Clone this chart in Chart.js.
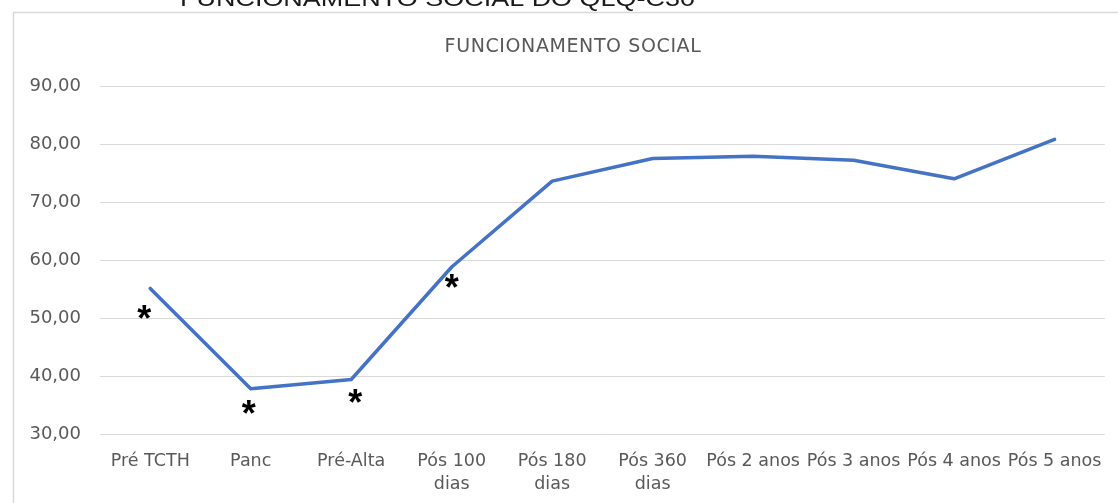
<!DOCTYPE html>
<html>
<head>
<meta charset="utf-8">
<script src="https://cdn.jsdelivr.net/npm/chart.js@4"></script>
<style>
  html, body { margin: 0; padding: 0; background: #ffffff; }
  #wrap { position: relative; width: 1118px; height: 503px; }
  canvas { display: block; }
</style>
</head>
<body>
<div id="wrap"><canvas id="c" width="1118" height="503"></canvas></div>
<script>
// Time points of the follow-up
const categories = ["Pré TCTH", "Panc", "Pré-Alta", ["Pós 100", "dias"], ["Pós 180", "dias"], ["Pós 360", "dias"], "Pós 2 anos", "Pós 3 anos", "Pós 4 anos", "Pós 5 anos"];
// Mean social functioning score at each time point
const socialScores = [55.1, 37.8, 39.4, 58.8, 73.6, 77.5, 77.9, 77.2, 74.0, 80.8];
// Y axis range and step
const yMin = 30;
const yMax = 90;
const yStep = 10;
// Significance asterisks: level on the y scale for the first four time points
const asteriskLevels = [51.1, 34.7, 36.6, 56.3];
const asteriskShift = [-6, -2, 4, 0];

const headingText = "FUNCIONAMENTO SOCIAL DO QLQ-C30";
const chartTitle = "FUNCIONAMENTO SOCIAL";

const frameAndTitles = {
  id: 'frameAndTitles',
  beforeDraw(chart) {
    const ctx = chart.ctx;
    ctx.save();
    // page heading running off the top edge
    ctx.font = '22px "Liberation Sans", Arial, sans-serif';
    ctx.fillStyle = '#1a1a1a';
    ctx.textBaseline = 'alphabetic';
    ctx.textAlign = 'left';
    const w = ctx.measureText(headingText).width;
    ctx.translate(180, 6);
    ctx.scale(515 / w, 1);
    ctx.fillText(headingText, 0, 0);
    ctx.restore();

    // chart frame
    ctx.save();
    ctx.strokeStyle = '#d9d9d9';
    ctx.lineWidth = 1.5;
    ctx.beginPath();
    ctx.moveTo(13.5, 503);
    ctx.lineTo(13.5, 12.5);
    ctx.lineTo(1118, 12.5);
    ctx.stroke();

    // chart title
    ctx.font = '19px "DejaVu Sans", sans-serif';
    ctx.fillStyle = '#595959';
    ctx.textAlign = 'center';
    ctx.textBaseline = 'alphabetic';
    if ('letterSpacing' in ctx) ctx.letterSpacing = '0.6px';
    ctx.fillText(chartTitle, 573, 51.5);
    ctx.restore();
  }
};

const asterisks = {
  id: 'asterisks',
  afterDatasetsDraw(chart) {
    const ctx = chart.ctx;
    const xs = chart.scales.x, ys = chart.scales.y;
    ctx.save();
    ctx.font = 'bold 36px "Liberation Sans", Arial, sans-serif';
    ctx.fillStyle = '#000000';
    ctx.textAlign = 'center';
    ctx.textBaseline = 'alphabetic';
    const m = ctx.measureText('*');
    const off = (m.actualBoundingBoxAscent - m.actualBoundingBoxDescent) / 2;
    asteriskLevels.forEach((v, i) => {
      const x = xs.getPixelForValue(i) + asteriskShift[i];
      const y = ys.getPixelForValue(v);
      ctx.fillText('*', x, y + off);
    });
    ctx.restore();
  }
};

new Chart(document.getElementById('c'), {
  type: 'line',
  data: {
    labels: categories,
    datasets: [{
      label: chartTitle,
      data: socialScores,
      borderColor: '#4472C4',
      backgroundColor: '#4472C4',
      borderWidth: 3.5,
      pointRadius: 0,
      pointHoverRadius: 0,
      tension: 0,
      borderCapStyle: 'round',
      borderJoinStyle: 'round',
      fill: false
    }]
  },
  options: {
    responsive: false,
    animation: false,
    events: [],
    layout: { padding: { left: 0, right: 12, top: 86, bottom: 0 } },
    plugins: {
      legend: { display: false },
      title: { display: false },
      tooltip: { enabled: false }
    },
    scales: {
      x: {
        offset: true,
        grid: { display: false, drawTicks: false },
        border: { display: false },
        ticks: {
          autoSkip: false,
          maxRotation: 0,
          minRotation: 0,
          padding: 16,
          color: '#595959',
          font: { family: '"DejaVu Sans", sans-serif', size: 17.5, lineHeight: 1.3 }
        },
        afterFit(scale) { scale.height = 69; }
      },
      y: {
        min: yMin,
        max: yMax,
        grid: { color: '#d9d9d9', lineWidth: 1, drawTicks: false },
        border: { display: false },
        ticks: {
          stepSize: yStep,
          padding: 19,
          color: '#595959',
          font: { family: '"DejaVu Sans", sans-serif', size: 18 },
          callback: (v) => Number(v).toFixed(2).replace('.', ',')
        },
        afterFit(scale) { scale.width = 100; }
      }
    }
  },
  plugins: [frameAndTitles, asterisks]
});
</script>
</body>
</html>
